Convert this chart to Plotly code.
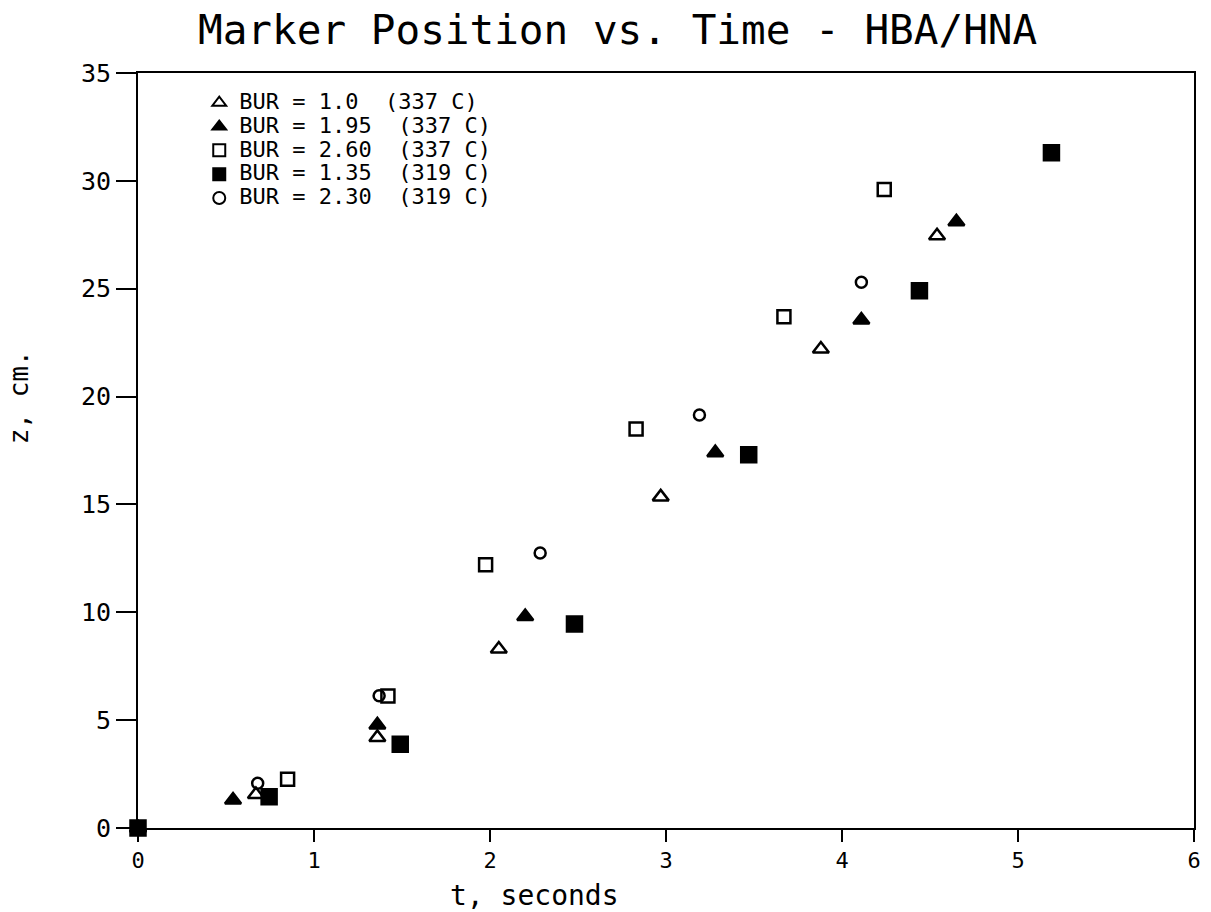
import plotly.graph_objects as go

# Marker position z (cm) vs. time t (s) for several blow-up ratios
t_bur100 = [0.0, 0.67, 1.36, 2.05, 2.97, 3.88, 4.54]
z_bur100 = [0.0, 1.55, 4.2, 8.3, 15.35, 22.2, 27.45]

t_bur195 = [0.0, 0.54, 1.36, 2.20, 3.28, 4.11, 4.65]
z_bur195 = [0.0, 1.3, 4.78, 9.8, 17.4, 23.55, 28.1]

t_bur260 = [0.0, 0.85, 1.42, 1.975, 2.83, 3.67, 4.24]
z_bur260 = [0.0, 2.26, 6.12, 12.2, 18.5, 23.7, 29.6]

t_bur135 = [0.0, 0.745, 1.49, 2.48, 3.47, 4.44, 5.19]
z_bur135 = [0.0, 1.45, 3.88, 9.46, 17.3, 24.9, 31.3]

t_bur230 = [0.0, 0.68, 1.37, 2.285, 3.19, 4.11]
z_bur230 = [0.0, 2.07, 6.13, 12.75, 19.15, 25.3]

NB = "\u00a0"
labels = [
    f"BUR = 1.0{NB}{NB}(337 C)",
    f"BUR = 1.95{NB}{NB}(337 C)",
    f"BUR = 2.60{NB}{NB}(337 C)",
    f"BUR = 1.35{NB}{NB}(319 C)",
    f"BUR = 2.30{NB}{NB}(319 C)",
]

x_ticks = [0, 1, 2, 3, 4, 5, 6]
y_ticks = [0, 5, 10, 15, 20, 25, 30, 35]

FONT = "DejaVu Sans Mono"
INK = "black"

series = [
    (t_bur100, z_bur100, labels[0], "triangle-up-open", 14),
    (t_bur195, z_bur195, labels[1], "triangle-up", 14),
    (t_bur260, z_bur260, labels[2], "square-open", 13),
    (t_bur135, z_bur135, labels[3], "square", 15),
    (t_bur230, z_bur230, labels[4], "circle-open", 11),
]

fig = go.Figure()
for t, z, name, sym, size in series:
    fig.add_trace(go.Scatter(
        x=t, y=z, mode="markers", cliponaxis=False,
        # legend rows stay compact; the entry text itself is set larger
        name=f'<span style="font-size:22px">{name}</span>',
        marker=dict(symbol=sym, size=size, color=INK,
                    line=dict(color=INK, width=2.5)),
    ))

axis_common = dict(
    showgrid=False, zeroline=False, showline=True, mirror=True,
    linecolor=INK, linewidth=2, ticks="outside", tickcolor=INK,
    tickwidth=2,
)

fig.update_layout(
    width=1211, height=912,
    margin=dict(l=138, r=10, t=73, b=84),
    paper_bgcolor="white", plot_bgcolor="white",
    title=dict(text="Marker Position vs. Time - HBA/HNA",
               x=0.51, xanchor="center", y=0.967, yanchor="middle",
               font=dict(family=FONT, size=41, color=INK)),
    xaxis=dict(range=[0, 6], tickvals=x_ticks, ticklen=12,
               tickfont=dict(family=FONT, size=22, color=INK),
               **axis_common),
    yaxis=dict(range=[0, 35], tickvals=y_ticks, ticklen=20,
               tickfont=dict(family=FONT, size=25, color=INK),
               **axis_common),
    legend=dict(x=0.058, y=0.983, xanchor="left", yanchor="top",
                bgcolor="rgba(0,0,0,0)", borderwidth=0,
                font=dict(family=FONT, size=16, color=INK),
                itemsizing="constant", tracegroupgap=0),
    showlegend=True,
    annotations=[
        dict(text="t, seconds", xref="paper", yref="paper",
             x=0.375, y=-0.089, xanchor="center", yanchor="middle",
             showarrow=False, font=dict(family=FONT, size=28, color=INK)),
        dict(text="z, cm.", xref="paper", yref="paper",
             x=-0.113, y=0.57, xanchor="center", yanchor="middle",
             textangle=-90, showarrow=False,
             font=dict(family=FONT, size=26, color=INK)),
    ],
)

fig.write_html("out.html")
